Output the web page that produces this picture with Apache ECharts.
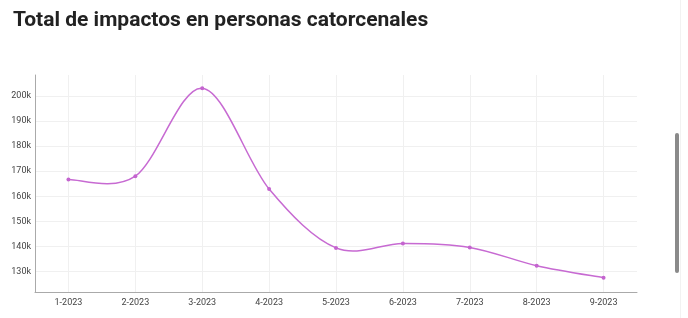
<!DOCTYPE html>
<html>
<head>
<meta charset="utf-8">
<script src="https://cdn.jsdelivr.net/npm/echarts@6/dist/echarts.min.js"></script>
<style>
html,body{margin:0;padding:0;background:#fff;}
#chart{width:688px;height:318px;}
</style>
</head>
<body>
<div id="chart"></div>
<script>
const titleText = 'Total de impactos en personas catorcenales';
const categories = ['1-2023','2-2023','3-2023','4-2023','5-2023','6-2023','7-2023','8-2023','9-2023'];
const impactos = [166700, 168000, 203100, 162900, 139400, 141200, 139600, 132300, 127500];
const yMin = 121800;
const yMax = 208400;

const lineColor = '#c76ad2';
const dotColor = '#c464cf';

function renderSegment(params, api) {
  const i = params.dataIndex;
  const n = impactos.length;
  const pt = j => api.coord([Math.max(0, Math.min(n - 1, j)), impactos[Math.max(0, Math.min(n - 1, j))]]);
  const children = [];
  const p1 = pt(i);
  if (i < n - 1) {
    const p0 = pt(i - 1), p2 = pt(i + 1), p3 = pt(i + 2);
    const c1 = [p1[0] + (p2[0] - p0[0]) / 6, p1[1] + (p2[1] - p0[1]) / 6];
    const c2 = [p2[0] - (p3[0] - p1[0]) / 6, p2[1] - (p3[1] - p1[1]) / 6];
    children.push({
      type: 'bezierCurve',
      shape: {x1: p1[0], y1: p1[1], cpx1: c1[0], cpy1: c1[1], cpx2: c2[0], cpy2: c2[1], x2: p2[0], y2: p2[1]},
      style: {stroke: lineColor, lineWidth: 1.5, fill: null}
    });
  }
  children.push({
    type: 'circle',
    z2: 10,
    shape: {cx: p1[0], cy: p1[1], r: 2},
    style: {fill: dotColor}
  });
  return {type: 'group', children: children};
}

const chart = echarts.init(document.getElementById('chart'), null, {renderer: 'canvas'});
chart.setOption({
  backgroundColor: '#fff',
  animation: false,
  title: {
    text: titleText,
    left: 8,
    top: 5,
    textStyle: {fontFamily: 'Roboto', fontWeight: 'bold', fontSize: 21, color: '#222'}
  },
  grid: {left: 35, right: 51, top: 75, bottom: 26, containLabel: false},
  xAxis: {
    type: 'category',
    data: categories,
    boundaryGap: true,
    axisLine: {lineStyle: {color: '#aaa', width: 1}},
    axisTick: {show: false, alignWithLabel: true},
    axisLabel: {fontFamily: 'Roboto', fontSize: 9, color: '#444', margin: 6},
    splitLine: {show: true, alignWithLabel: true, lineStyle: {color: '#f0f0f0', width: 1}}
  },
  yAxis: {
    type: 'value',
    min: yMin,
    max: yMax,
    splitNumber: 8,
    axisLine: {show: true, lineStyle: {color: '#aaa', width: 1}},
    axisTick: {show: false},
    axisLabel: {fontFamily: 'Roboto', fontSize: 9, color: '#444', margin: 4,
      showMinLabel: false, showMaxLabel: false,
      formatter: v => (v / 1000) + 'k'},
    splitLine: {show: true, showMinLine: false, showMaxLine: false, lineStyle: {color: '#f0f0f0', width: 1}}
  },
  series: [{
    type: 'custom',
    renderItem: renderSegment,
    data: impactos.map((v, i) => [i, v]),
    encode: {x: 0, y: 1}
  }],
  graphic: [
    {type: 'rect', shape: {x: 680, y: 0, width: 1, height: 318}, style: {fill: '#f2f2f2'}},
    {type: 'rect', shape: {x: 675, y: 133, width: 4, height: 140, r: 2}, style: {fill: '#8a8a8a'}}
  ]
});
</script>
</body>
</html>
